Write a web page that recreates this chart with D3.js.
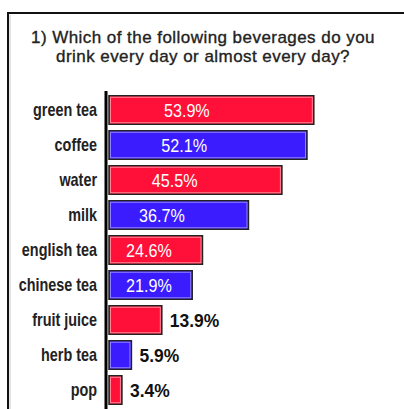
<!DOCTYPE html>
<html>
<head>
<meta charset="utf-8">
<script src="https://cdn.jsdelivr.net/npm/d3@7"></script>
<style>
 html,body{margin:0;padding:0;background:#fff;}
 svg{display:block;}
 text{font-family:"Liberation Sans",Arial,Helvetica,sans-serif;}
</style>
</head>
<body>
<svg id="chart" width="404" height="409"></svg>
<script>
// beverages, in chart order
var beverages=["green tea","coffee","water","milk","english tea","chinese tea","fruit juice","herb tea","pop"];
var percents=[53.9,52.1,45.5,36.7,24.6,21.9,13.9,5.9,3.4];
var titleLines=["1) Which of the following beverages do you","drink every day or almost every day?"];

var svg=d3.select("#chart");
var red="#ff1038",blue="#3a1cff";

// the original uses a narrow face; no narrow font here, so squeeze sideways
function squeeze(sel,s)
{
 sel.each(function()
 {
  var t=d3.select(this),tx=+t.attr("x")||0,ty=+t.attr("y")||0;
  t.attr("x",0).attr("y",0).attr("transform","translate("+tx+","+ty+") scale("+s+",1)");
 });
}

// frame (top + left edges only, runs off the picture)
svg.append("path")
 .attr("d","M8,409V13H404")
 .attr("fill","none").attr("stroke","#111").attr("stroke-width",2);
svg.append("line").attr("x1",10).attr("x2",10).attr("y1",15).attr("y2",409)
 .attr("stroke","#ccc").attr("stroke-width",1);

svg.append("g").selectAll("text").data(titleLines).join("text")
 .attr("x",203).attr("y",function(d,i){return 43+i*19;})
 .attr("text-anchor","middle")
 .attr("font-size",17).attr("letter-spacing",0.45).attr("fill","#222")
 .attr("stroke","#222").attr("stroke-width",0.35)
 .text(function(d){return d;});

var x=d3.scaleLinear().domain([0,60]).range([109,337]);
var y=d3.scaleBand().domain(beverages).range([95,405]).paddingInner(5/35);

var yAxis=d3.axisLeft(y).tickSize(0).tickPadding(0);
var ga=svg.append("g").attr("transform","translate(97,0)").call(yAxis);
ga.select(".domain").remove();
ga.selectAll("text")
 .attr("font-family",null).attr("font-size",18).attr("font-weight","bold").attr("fill","#222")
 .attr("x",0).attr("dy","0.32em")
 .attr("transform","scale(0.8,1)");

svg.append("line").attr("x1",106).attr("x2",106).attr("y1",91).attr("y2",409)
 .attr("stroke","#000").attr("stroke-width",3);

var rows=svg.append("g").selectAll("g").data(beverages).join("g");
rows.append("rect")
 .attr("x",x(0)).attr("y",function(d){return y(d)+0.75;})
 .attr("width",function(d,i){return x(percents[i])-x(0);})
 .attr("height",y.bandwidth()-1.5)
 .attr("fill",function(d,i){return i%2?blue:red;})
 .attr("stroke","#222").attr("stroke-width",1.5);
rows.append("rect")
 .attr("x",x(0)+1.5).attr("y",function(d){return y(d)+2.25;})
 .attr("width",function(d,i){return Math.max(0,x(percents[i])-x(0)-3);})
 .attr("height",y.bandwidth()-4.5)
 .attr("fill","none")
 .attr("stroke",function(d,i){return i%2?"#8f80ff":"#ff8796";}).attr("stroke-width",1);

var inside=function(i){return percents[i]>=20;};
var vl=rows.append("text")
 .attr("x",function(d,i){
  var w=x(percents[i])-x(0);
  return inside(i)?x(0)+Math.max(40,w*0.38):x(percents[i])+8;
 })
 .attr("y",function(d){return y(d)+y.bandwidth()/2;})
 .attr("dy","0.36em")
 .attr("text-anchor",function(d,i){return inside(i)?"middle":"start";})
 .attr("font-size",19)
 .attr("fill",function(d,i){return inside(i)?"#fff":"#111";})
 .attr("font-weight",function(d,i){return inside(i)?"normal":"bold";})
 .text(function(d,i){return percents[i].toFixed(1)+"%";});
squeeze(vl.filter(function(d,i){return inside(i);}),0.85);
squeeze(vl.filter(function(d,i){return !inside(i);}),0.92);
</script>
</body>
</html>
